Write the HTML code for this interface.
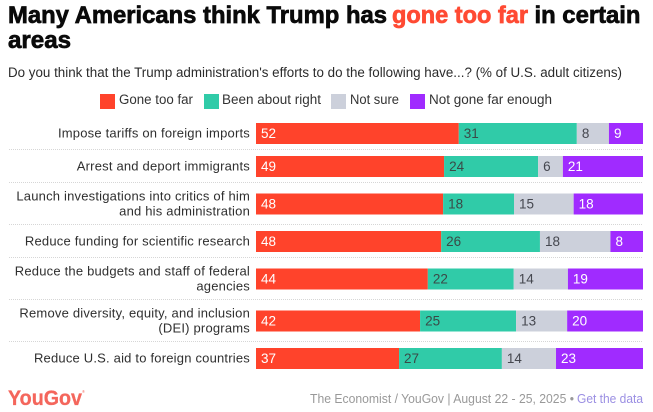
<!DOCTYPE html>
<html lang="en">
<head>
<meta charset="utf-8">
<title>Many Americans think Trump has gone too far in certain areas</title>
<style>
html,body{margin:0;padding:0;background:#fff;}
body{width:653px;height:412px;overflow:hidden;}
svg{display:block;font-family:"Liberation Sans",sans-serif;}
.title{font-size:24px;font-weight:700;fill:#0a0a0a;stroke:#0a0a0a;stroke-width:.7px;}
.sub{font-size:13.5px;fill:#2b2b2b;}
.leg{font-size:13.5px;fill:#333;}
.cat{font-size:13px;fill:#2f2f2f;letter-spacing:.2px;}
.num{font-size:13.5px;}
.foot{font-size:12.5px;fill:#999;}
</style>
</head>
<body>
<svg id="chart" width="653" height="412" viewBox="0 0 653 412" xmlns="http://www.w3.org/2000/svg">
  <text class="title" x="8" y="23" textLength="379" lengthAdjust="spacingAndGlyphs">Many Americans think Trump has</text>
  <text class="title" x="392" y="23" textLength="136" lengthAdjust="spacingAndGlyphs" style="fill:#ff4a33;stroke:#ff4a33">gone too far</text>
  <text class="title" x="534.5" y="23" textLength="106" lengthAdjust="spacingAndGlyphs">in certain</text>
  <text class="title" x="8" y="48" textLength="63" lengthAdjust="spacingAndGlyphs">areas</text>
  <text class="sub" x="8" y="77" textLength="614" lengthAdjust="spacingAndGlyphs">Do you think that the Trump administration's efforts to do the following have...? (% of U.S. adult citizens)</text>

  <g>
    <rect x="100" y="94" width="15" height="15" fill="#ff432b"/>
    <text class="leg" x="119" y="104" textLength="74" lengthAdjust="spacingAndGlyphs">Gone too far</text>
    <rect x="204" y="94" width="15" height="15" fill="#30cba8"/>
    <text class="leg" x="222" y="104" textLength="99" lengthAdjust="spacingAndGlyphs">Been about right</text>
    <rect x="331" y="94" width="15" height="15" fill="#ccd0db"/>
    <text class="leg" x="350" y="104" textLength="49" lengthAdjust="spacingAndGlyphs">Not sure</text>
    <rect x="410" y="94" width="15" height="15" fill="#a02bff"/>
    <text class="leg" x="429" y="104" textLength="123" lengthAdjust="spacingAndGlyphs">Not gone far enough</text>
  </g>

  <g id="plot"></g>

  <text x="8" y="405" font-size="21.5" font-weight="700" fill="#f4665c" stroke="#f4665c" stroke-width=".3" textLength="74" lengthAdjust="spacingAndGlyphs">YouGov</text>
  <text x="82" y="393" font-size="4" fill="#f4665c">®</text>
  <text class="foot" x="310" y="403" textLength="264" lengthAdjust="spacingAndGlyphs">The Economist / YouGov | August 22 - 25, 2025 •</text>
  <text class="foot" x="577" y="403" textLength="66" lengthAdjust="spacingAndGlyphs" style="fill:#9b8fe3;cursor:pointer">Get the data</text>
</svg>

<script>
var categories = [
  ["Impose tariffs on foreign imports"],
  ["Arrest and deport immigrants"],
  ["Launch investigations into critics of him", "and his administration"],
  ["Reduce funding for scientific research"],
  ["Reduce the budgets and staff of federal", "agencies"],
  ["Remove diversity, equity, and inclusion", "(DEI) programs"],
  ["Reduce U.S. aid to foreign countries"]
];
var goneTooFar   = [52.4, 48.6, 48.3, 47.8, 44.4, 42.4, 37.0];
var beenAboutRight = [30.5, 24.3, 18.3, 25.5, 22.2, 24.8, 26.6];
var notSure      = [8.3, 6.4, 15.4, 18.2, 14.0, 13.2, 14.0];
var notFarEnough = [8.8, 20.7, 17.9, 8.4, 19.4, 19.6, 22.5];

var seriesNames = ["gone-too-far", "been-about-right", "not-sure", "not-far-enough"];
var seriesValues = [goneTooFar, beenAboutRight, notSure, notFarEnough];
var seriesColors = ["#ff432b", "#30cba8", "#ccd0db", "#a02bff"];
var labelColors = ["#ffffff", "#3a4a47", "#45474f", "#ffffff"];

var NS = "http://www.w3.org/2000/svg";
var plot = document.getElementById("plot");
var plotLeft = 256, plotRight = 643, barHeight = 21;
var plotTop = 117, singleBand = 33, doubleBand = 42;

function xScale(share) {
  return share / 100 * (plotRight - plotLeft);
}
function make(tag, attrs) {
  var el = document.createElementNS(NS, tag);
  for (var k in attrs) el.setAttribute(k, attrs[k]);
  return el;
}

var bandTop = plotTop;
categories.forEach(function (lines, i) {
  var band = lines.length > 1 ? doubleBand : singleBand;
  var cy = bandTop + band / 2;

  lines.forEach(function (line, j) {
    var t = make("text", {
      "class": "cat",
      x: 250,
      y: cy + 4 + (j - (lines.length - 1) / 2) * 15,
      "text-anchor": "end"
    });
    
    
    t.textContent = line;
    plot.appendChild(t);
  });

  var total = 0;
  seriesValues.forEach(function (s) { total += s[i]; });
  var x = plotLeft;
  seriesValues.forEach(function (s, k) {
    var w = xScale(s[i] / total * 100);
    var r = make("rect", {
      x: x,
      y: cy - barHeight / 2,
      width: w,
      height: barHeight,
      fill: seriesColors[k]
    });
    
    
    plot.appendChild(r);

    var v = make("text", {
      "class": "num",
      x: x + 5,
      y: cy + 4.5,
      fill: labelColors[k]
    });
    
    
    v.textContent = Math.round(s[i]);
    plot.appendChild(v);

    x += w;
  });

  if (i < categories.length - 1) {
    var sep = make("line", {
      x1: 9,
      x2: plotRight,
      y1: bandTop + band - 0.5,
      y2: bandTop + band - 0.5,
      stroke: "#d6d6d6",
      "stroke-width": 1,
      "stroke-dasharray": "1 1"
    });
    
    
    plot.appendChild(sep);
  }
  bandTop += band;
});
</script>
</body>
</html>
